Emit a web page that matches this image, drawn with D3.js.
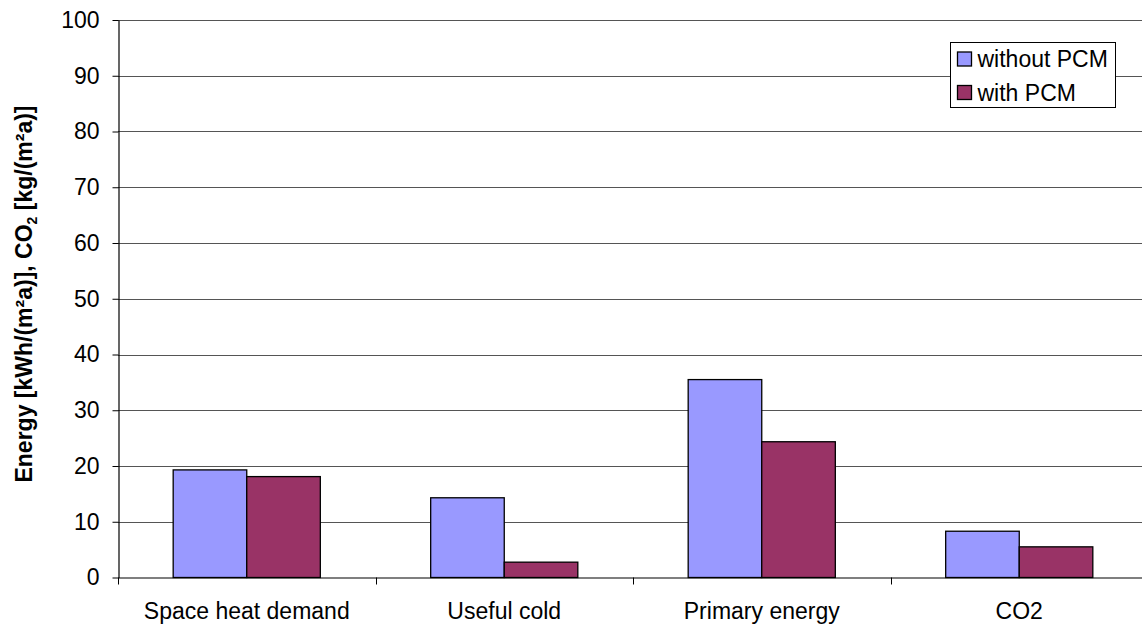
<!DOCTYPE html>
<html>
<head>
<meta charset="utf-8">
<script src="https://cdn.jsdelivr.net/npm/d3@7"></script>
<style>
  html, body { margin: 0; padding: 0; background: #fff; }
  svg { display: block; font-family: "Liberation Sans", Arial, sans-serif; }
</style>
</head>
<body>
<svg id="chart" width="1142" height="628"></svg>
<script>
// Annual energy and CO2 figures per floor area, with and without PCM
const categories = ["Space heat demand", "Useful cold", "Primary energy", "CO2"];
const seriesNames = ["without PCM", "with PCM"];
const withoutPCM = [19.3, 14.3, 35.5, 8.3];
const withPCM = [18.1, 2.75, 24.35, 5.5];
const yTicks = [0, 10, 20, 30, 40, 50, 60, 70, 80, 90, 100];
const colors = ["#9999FF", "#993366"];

const FONT = "Liberation Sans, Arial, sans-serif";
const svg = d3.select("#chart");
const margin = { left: 118, top: 20, right: 1148, bottom: 577.5 };

const x = d3.scaleBand().domain(categories).range([margin.left, margin.right]).paddingInner(0).paddingOuter(0);
const bw = x.bandwidth() / 3.5; // gap width 150%
const xs = d3.scaleBand().domain(seriesNames).range([0, bw * 2]);
const y = d3.scaleLinear().domain([0, 100]).range([margin.bottom, margin.top]);

// gridlines
svg.append("g")
  .selectAll("line")
  .data(yTicks.filter(d => d > 0))
  .join("line")
  .attr("x1", margin.left).attr("x2", margin.right)
  .attr("y1", d => Math.round(y(d)) + 0.5).attr("y2", d => Math.round(y(d)) + 0.5)
  .attr("stroke", "#555").attr("stroke-width", 1);

// bars
const rows = categories.map((c, i) => ({ c, vals: [withoutPCM[i], withPCM[i]] }));
const groups = svg.append("g").selectAll("g")
  .data(rows).join("g")
  .attr("transform", d => `translate(${x(d.c) + x.bandwidth() / 2 - bw},0)`);
groups.selectAll("rect")
  .data(d => d.vals.map((v, j) => ({ v, j })))
  .join("rect")
  .attr("x", d => xs(seriesNames[d.j]))
  .attr("width", xs.bandwidth())
  .attr("y", d => y(d.v))
  .attr("height", d => y(0) - y(d.v))
  .attr("fill", d => colors[d.j])
  .attr("stroke", "#000").attr("stroke-width", 1.3);

// y axis
const yAxis = d3.axisLeft(y).tickValues(yTicks).tickSize(6).tickSizeOuter(0).tickPadding(13);
const gy = svg.append("g").attr("transform", `translate(${margin.left + 0.5},0)`).call(yAxis);
gy.select(".domain").attr("stroke", "#000").attr("stroke-width", 1.2);
gy.selectAll(".tick line").attr("stroke", "#000");
gy.selectAll(".tick text").attr("font-size", 23).attr("fill", "#000").attr("font-family", FONT);

// x axis
const xAxis = d3.axisBottom(x).tickSize(0).tickSizeOuter(0).tickPadding(25);
const gx = svg.append("g").attr("transform", `translate(0,${margin.bottom})`).call(xAxis);
gx.select(".domain").attr("stroke", "#000").attr("stroke-width", 1.2);
gx.selectAll(".tick text").attr("font-size", 23).attr("fill", "#000").attr("font-family", FONT);
// boundary tick marks between categories
gx.append("g").selectAll("line")
  .data(categories.map(c => x(c)).concat([margin.right]))
  .join("line")
  .attr("x1", d => Math.round(d) + 0.5).attr("x2", d => Math.round(d) + 0.5)
  .attr("y1", 0).attr("y2", 7)
  .attr("stroke", "#000");

// y axis title
const title = svg.append("text")
  .attr("transform", `translate(32,294) rotate(-90)`)
  .attr("text-anchor", "middle")
  .attr("font-size", 23).attr("font-weight", "bold").attr("fill", "#000");
title.append("tspan").text("Energy [kWh/(m²a)], CO");
title.append("tspan").attr("font-size", 14).attr("dy", 5).text("2");
title.append("tspan").attr("dy", -5).text(" [kg/(m²a)]");

// legend
const lg = svg.append("g").attr("transform", "translate(950.5,42.5)");
lg.append("rect").attr("width", 165).attr("height", 65)
  .attr("fill", "#fff").attr("stroke", "#000").attr("stroke-width", 1);
seriesNames.forEach((s, i) => {
  const row = lg.append("g").attr("transform", `translate(7,${9.5 + i * 33.5})`);
  row.append("rect").attr("width", 14).attr("height", 14)
    .attr("fill", colors[i]).attr("stroke", "#000").attr("stroke-width", 1.3);
  row.append("text").attr("x", 20).attr("y", 15)
    .attr("font-size", 23).attr("fill", "#000").attr("font-family", FONT).text(s);
});
</script>
</body>
</html>
